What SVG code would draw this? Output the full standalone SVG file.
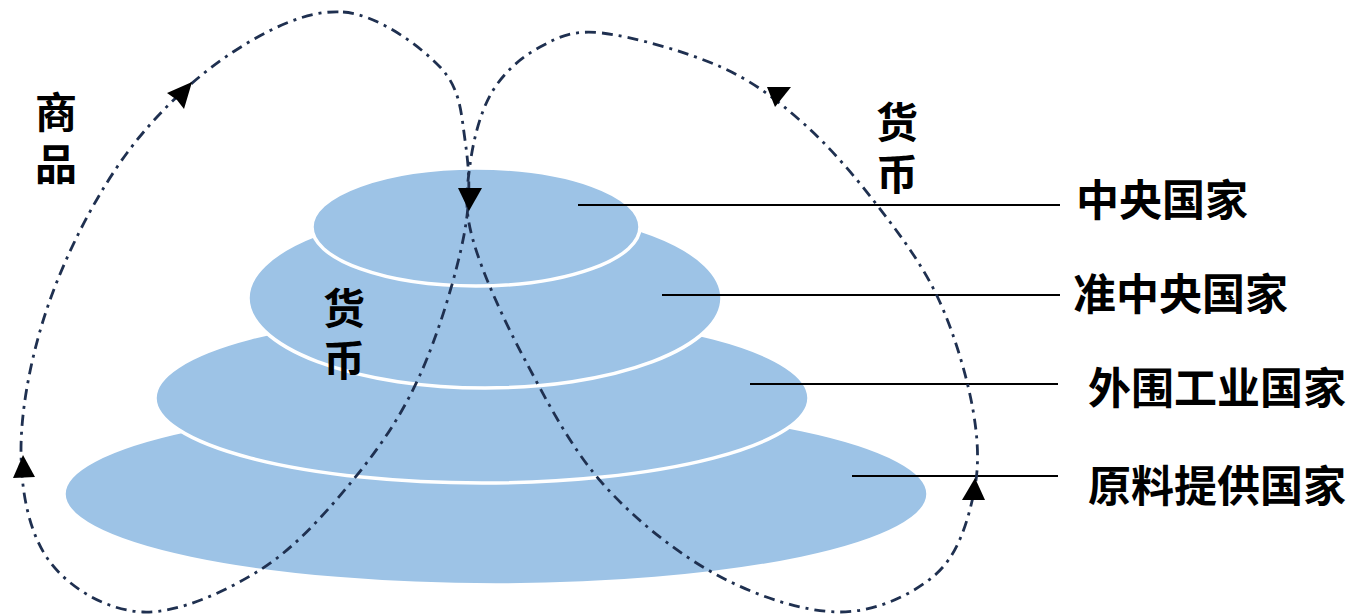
<svg xmlns="http://www.w3.org/2000/svg" width="1350" height="614" viewBox="0 0 1350 614">
<style>
.layer{fill:#9DC3E6;stroke:#FFFFFF;stroke-width:3.5}
.lead{stroke:#000000;stroke-width:2;fill:none}
.lbl{font-family:"Noto Sans CJK SC","Noto Sans CJK TC",sans-serif;font-weight:bold;font-size:43px;fill:#000000}
.vlbl{font-family:"Noto Sans CJK SC","Noto Sans CJK TC",sans-serif;font-weight:bold;font-size:42px;fill:#000000;writing-mode:vertical-rl;letter-spacing:10px}
.flow{fill:none;stroke:#1F3050;stroke-width:2.8;stroke-dasharray:11 6 3 6}
.head{fill:#000000}
</style>
<rect width="1350" height="614" fill="#FFFFFF"/>
<g id="raw-material-countries">
<ellipse class="layer" cx="496" cy="494" rx="432" ry="91"/>
<line class="lead" x1="852" y1="476" x2="1058" y2="476"/>
<text class="lbl" x="1088" y="502">原料提供国家</text>
</g>
<g id="peripheral-industrial-countries">
<ellipse class="layer" cx="482" cy="398" rx="327" ry="85"/>
<line class="lead" x1="750" y1="384" x2="1058" y2="384"/>
<text class="lbl" x="1088" y="404">外围工业国家</text>
</g>
<g id="semi-central-countries">
<ellipse class="layer" cx="485" cy="298" rx="237" ry="90"/>
<line class="lead" x1="662" y1="295" x2="1060" y2="295"/>
<text class="lbl" x="1073" y="310">准中央国家</text>
</g>
<g id="central-countries">
<ellipse class="layer" cx="476" cy="227" rx="164" ry="59"/>
<line class="lead" x1="578" y1="205" x2="1060" y2="205"/>
<text class="lbl" x="1076" y="216">中央国家</text>
</g>
<g id="connectors">
<path class="flow" d="M343,12 C377.5,14.5 419.7,45.7 440,67 C460.3,88.3 461,112 465,140 C469,168 471.5,195.8 464,235 C456.5,274.2 438.5,334.2 420,375 C401.5,415.8 379.7,447.5 353,480 C326.3,512.5 295,548 260,570 C225,592 178,613.3 143,612 C108,610.7 70.3,589 50,562 C29.7,535 21,493.7 21,450 C21,406.3 32.3,349.5 50,300 C67.7,250.5 96.5,194.3 127,153 C157.5,111.7 197,75.5 233,52 C269,28.5 308.5,9.5 343,12 Z"/>
<path class="flow" d="M602,33 C632.2,36.3 687.5,52 721,67 C754.5,82 777,100 803,123 C829,146 854.5,175.8 877,205 C899.5,234.2 922,263.8 938,298 C954,332.2 967.2,376.8 973,410 C978.8,443.2 979.3,469.5 973,497 C966.7,524.5 957.2,555.8 935,575 C912.8,594.2 876.3,612 840,612 C803.7,612 756.5,596.3 717,575 C677.5,553.7 635,519.8 603,484 C571,448.2 546.7,400.7 525,360 C503.3,319.3 482.2,272.5 473,240 C463.8,207.5 466.8,189.7 470,165 C473.2,140.3 480.3,111.7 492,92 C503.7,72.3 521.7,56.8 540,47 C558.3,37.2 571.8,29.7 602,33 Z"/>
<polygon class="head" points="192,82 184,109 177,100 167,93"/>
<polygon class="head" points="458,188 482,188 469,211"/>
<polygon class="head" points="767,87 791,87 775,107"/>
<polygon class="head" points="23,455 35,477 13,478"/>
<polygon class="head" points="975,478 985,500 962,500"/>
</g>
<g id="label-goods">
<text class="vlbl" x="56" y="91">商品</text>
</g>
<g id="label-money-right">
<text class="vlbl" x="897" y="101">货币</text>
</g>
<g id="label-money-middle">
<text class="vlbl" x="344" y="287">货币</text>
</g>
</svg>
